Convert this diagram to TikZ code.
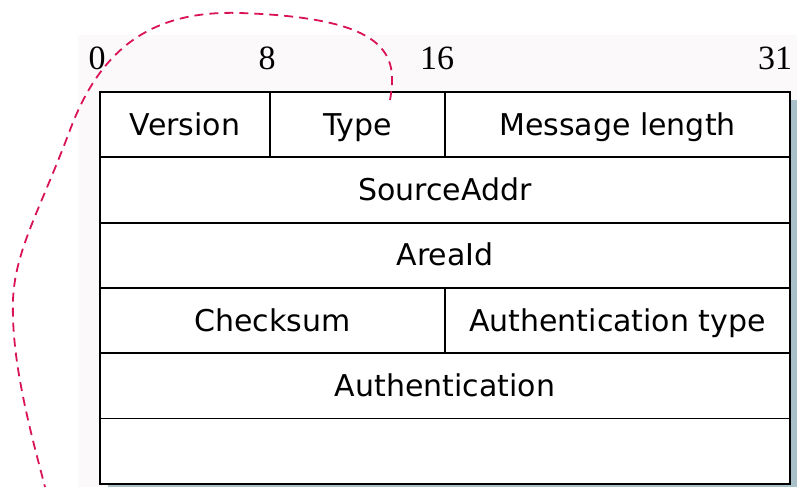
\documentclass[tikz,border=0pt]{standalone}
\usepackage{fontspec}
\setmainfont{DejaVu Sans}
\newfontfamily\bitfont{Liberation Serif}
\usepackage{xcolor}
\usetikzlibrary{positioning}
\definecolor{loopred}{RGB}{218,18,88}
\definecolor{hdrshadow}{RGB}{170,192,200}
\definecolor{hdrback}{RGB}{252,249,250}
\tikzset{
    field/.style={draw, fill=white, line width=1.8pt, inner sep=0pt, outer sep=0pt, anchor=north west,
        minimum height=65.3pt, text height=25pt, text depth=4pt, font=\fontsize{30}{32}\selectfont},
    bitno/.style={inner sep=0pt, font=\bitfont\fontsize{34}{36}\selectfont}
}
\begin{document}
\begin{tikzpicture}[x=1pt,y=-1pt]
        \newcommand{\ospfhdrleft}{100}
        \newcommand{\ospfhdrtop}{92}
        \newcommand{\ospfhdrwidth}{690pt}
        \newcommand{\ospfhdrhalf}{345pt}
        \useasboundingbox (0,0) rectangle (797,487);
        \fill[hdrback] (78,35) rectangle (797,487);
        \fill[hdrshadow] (790,100) rectangle (797,487);
        \fill[hdrshadow] (108,484) rectangle (797,487);
        % first row
        \node[field, minimum width=170pt] (version) at (\ospfhdrleft,\ospfhdrtop) {Version};
        \node[field, minimum width=175pt, right=0pt of version] (type) {Type};
        \node[field, minimum width=\ospfhdrhalf, right=0pt of type] (msglen) {Message length};
        % full rows
        \node[field, minimum width=\ospfhdrwidth] (source) at (version.south west) {SourceAddr};
        \node[field, minimum width=\ospfhdrwidth] (area) at (source.south west) {AreaId};
        \node[field, minimum width=\ospfhdrhalf] (checksum) at (area.south west) {Checksum};
        \node[field, minimum width=\ospfhdrhalf, right=0pt of checksum] (authtype) {Authentication type};
        \node[field, minimum width=\ospfhdrwidth] (auth) at (checksum.south west) {Authentication};
        \node[field, minimum width=\ospfhdrwidth] (authmore) at (auth.south west) {};
        % bit numbers
        \node[bitno] (bit0) at (97,58) {0};
        \node[bitno] (bit8) at (267,58) {8};
        \node[bitno] (bit16) at (437,58) {16};
        \node[bitno] (bit31) at (775,58) {31};
        % dashed loop
        \coordinate (loopstart) at (390,100);
        \coordinate (loopend) at (45,487);
        \draw[loopred, line width=1.8pt, dash pattern=on 9pt off 6pt]
            (loopstart) .. controls (398,55) and (390,18) .. (240,13)
            .. controls (150,10) and (100,50) .. (70,130)
            .. controls (40,210) and (15,250) .. (13,300)
            .. controls (11,360) and (30,430) .. (loopend);
    \end{tikzpicture}
\end{document}
